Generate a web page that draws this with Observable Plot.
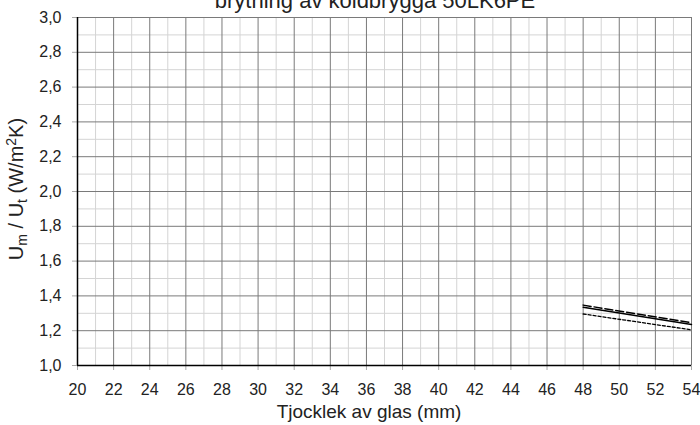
<!DOCTYPE html>
<html>
<head>
<meta charset="utf-8">
<script src="https://cdn.jsdelivr.net/npm/d3@7"></script>
<script src="https://cdn.jsdelivr.net/npm/@observablehq/plot@0.6"></script>
<style>
  body { margin: 0; background: #fff; overflow: hidden; }
  #wrap { position: relative; width: 700px; height: 425px; overflow: hidden; font-family: "Liberation Sans", Arial, sans-serif; }
  #title { position: absolute; left: 75px; width: 600px; top: -12px; line-height: 25px; text-align: center; font-size: 22px; color: #222; white-space: nowrap; }
</style>
</head>
<body>
<div id="wrap"><div id="title">brytning av köldbrygga 50LK6PE</div></div>
<script>
const thickness = [48, 54];
const solidSeries = [1.335, 1.236];
const longDashSeries = [1.347, 1.246];
const shortDashSeries = [1.296, 1.205];

const xTicks = [20,22,24,26,28,30,32,34,36,38,40,42,44,46,48,50,52,54];
const xMinor = [21,23,25,27,29,31,33,35,37,39,41,43,45,47,49,51,53];
const yTicks = [1.0,1.2,1.4,1.6,1.8,2.0,2.2,2.4,2.6,2.8,3.0];
const yMinor = [1.1,1.3,1.5,1.7,1.9,2.1,2.3,2.5,2.7,2.9];

const fmt = d => d.toFixed(1).replace(".", ",");
const mk = vals => thickness.map((x, i) => ({x, y: vals[i]}));

const chart = Plot.plot({
  width: 700,
  height: 425,
  marginLeft: 77,
  marginRight: 9,
  marginTop: 17,
  marginBottom: 60,
  style: { fontFamily: "'Liberation Sans', Arial, sans-serif", fontSize: "16px", color: "#222", background: "#fff" },
  x: { domain: [20, 54] },
  y: { domain: [1, 3] },
  marks: [
    Plot.ruleX(xMinor, { stroke: "#d4d4d4", strokeWidth: 1 }),
    Plot.ruleY(yMinor, { stroke: "#d4d4d4", strokeWidth: 1 }),
    Plot.ruleX(xTicks, { stroke: "#7a7a7a", strokeWidth: 1 }),
    Plot.ruleY(yTicks, { stroke: "#7a7a7a", strokeWidth: 1 }),
    Plot.axisX({ ticks: xTicks, tickSize: 5, tickPadding: 13, fontSize: 16, stroke: "#aaa", fill: "#222", label: null, tickFormat: d => String(d) }),
    Plot.axisY({ ticks: yTicks, tickSize: 5, tickPadding: 11, fontSize: 16, stroke: "#aaa", fill: "#222", label: null, tickFormat: fmt }),
    Plot.ruleX([20], { stroke: "#000", strokeWidth: 1.5 }),
    Plot.ruleY([1], { stroke: "#000", strokeWidth: 1.5 }),
    Plot.line(mk(solidSeries), { x: "x", y: "y", stroke: "#000", strokeWidth: 1.5 }),
    Plot.line(mk(longDashSeries), { x: "x", y: "y", stroke: "#000", strokeWidth: 1.5, strokeDasharray: "8,3" }),
    Plot.line(mk(shortDashSeries), { x: "x", y: "y", stroke: "#000", strokeWidth: 1.3, strokeDasharray: "3,2" })
  ]
});

const svg = d3.select(chart);
// x axis title
svg.append("text")
  .attr("x", 369).attr("y", 418)
  .attr("text-anchor", "middle")
  .attr("font-size", 19).attr("fill", "#222")
  .text("Tjocklek av glas (mm)");
// y axis title with subscripts / superscript
const yl = svg.append("text")
  .attr("transform", "translate(23,189) rotate(-90)")
  .attr("text-anchor", "middle")
  .attr("font-size", 20).attr("fill", "#222");
yl.append("tspan").text("U");
yl.append("tspan").attr("font-size", 14).attr("dy", 4).text("m");
yl.append("tspan").attr("dy", -4).text(" / U");
yl.append("tspan").attr("font-size", 14).attr("dy", 4).text("t");
yl.append("tspan").attr("dy", -4).text(" (W/m");
yl.append("tspan").attr("font-size", 14).attr("dy", -7).text("2");
yl.append("tspan").attr("dy", 7).text("K)");

document.getElementById("wrap").appendChild(chart);
</script>
</body>
</html>
